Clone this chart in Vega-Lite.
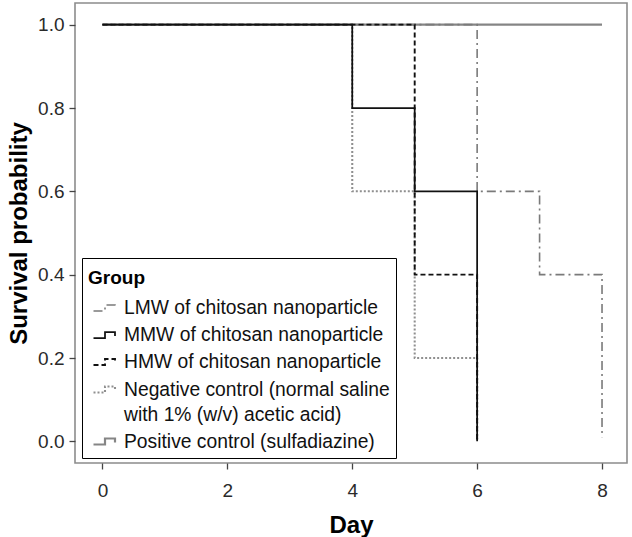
{
  "$schema": "https://vega.github.io/schema/vega-lite/v6.json",
  "width": 552,
  "height": 460,
  "autosize": {"type": "none"},
  "padding": {"left": 75, "top": 3, "right": 5, "bottom": 74},
  "background": "white",
  "config": {
    "font": "Liberation Sans",
    "view": {"stroke": "#8c8c8c", "strokeWidth": 1.6},
    "axis": {
      "grid": false,
      "domain": false,
      "tickColor": "#444444",
      "tickSize": 6,
      "tickWidth": 1.3,
      "labelFont": "Liberation Sans",
      "labelFontSize": 19,
      "labelColor": "#2a2a2a",
      "titleFont": "Liberation Sans",
      "titleFontSize": 24,
      "titleFontWeight": "bold",
      "titleColor": "#000000"
    }
  },
  "data": {
    "values": [
      {"group": "POS", "day": 0, "surv": 1.0},
      {"group": "POS", "day": 8, "surv": 1.0},
      {"group": "NEG", "day": 0, "surv": 1.0},
      {"group": "NEG", "day": 4, "surv": 0.6},
      {"group": "NEG", "day": 5, "surv": 0.2},
      {"group": "NEG", "day": 6, "surv": 0.0},
      {"group": "LMW", "day": 0, "surv": 1.0},
      {"group": "LMW", "day": 6, "surv": 0.6},
      {"group": "LMW", "day": 7, "surv": 0.4},
      {"group": "LMW", "day": 8, "surv": 0.01},
      {"group": "MMW", "day": 0, "surv": 1.0},
      {"group": "MMW", "day": 4, "surv": 0.8},
      {"group": "MMW", "day": 5, "surv": 0.6},
      {"group": "MMW", "day": 6, "surv": 0.0},
      {"group": "HMW", "day": 0, "surv": 1.0},
      {"group": "HMW", "day": 5, "surv": 0.4},
      {"group": "HMW", "day": 6, "surv": 0.0}
    ]
  },
  "mark": {"type": "line", "interpolate": "step-after"},
  "encoding": {
    "x": {
      "field": "day", "type": "quantitative",
      "scale": {"domain": [-0.44, 8.4], "nice": false, "zero": false},
      "axis": {"values": [0, 2, 4, 6, 8], "title": "Day", "titlePadding": 13, "labelPadding": 12}
    },
    "y": {
      "field": "surv", "type": "quantitative",
      "scale": {"domain": [-0.052, 1.052], "nice": false, "zero": false},
      "axis": {"values": [0, 0.2, 0.4, 0.6, 0.8, 1.0], "format": ".1f", "title": "Survival probability", "titlePadding": 6, "labelPadding": 5}
    },
    "color": {
      "field": "group", "type": "nominal",
      "scale": {
        "domain": ["LMW", "MMW", "HMW", "NEG", "POS"],
        "range": ["#7a7a7a", "#111111", "#111111", "#8f8f8f", "#858585"]
      },
      "legend": {
        "title": "Group",
        "orient": "none",
        "legendX": 7,
        "legendY": 255,
        "strokeColor": "#000000",
        "fillColor": "white",
        "padding": 6,
        "titleFontSize": 19,
        "titleFontWeight": "bold",
        "titleColor": "#000000",
        "titlePadding": 14,
        "labelFontSize": 19.3,
        "labelColor": "#111111",
        "labelLimit": 500,
        "labelOffset": 13,
        "rowPadding": 5,
        "symbolType": "M-0.6,0.3 H0.55 V-0.3 H1.55 V0.1",
        "symbolSize": 400,
        "symbolFillColor": "transparent",
        "encode": {
          "labels": {"update": {"lineHeight": {"value": 25}}},
          "title": {"update": {"dy": {"value": 5}}}
        },
        "labelExpr": "datum.label == 'LMW' ? 'LMW of chitosan nanoparticle' : datum.label == 'MMW' ? 'MMW of chitosan nanoparticle' : datum.label == 'HMW' ? 'HMW of chitosan nanoparticle' : datum.label == 'NEG' ? ['Negative control (normal saline', 'with 1% (w/v) acetic acid)'] : 'Positive control (sulfadiazine)'"
      }
    },
    "strokeDash": {
      "field": "group", "type": "nominal",
      "scale": {
        "domain": ["LMW", "MMW", "HMW", "NEG", "POS"],
        "range": [[9, 4, 2, 4], [1, 0], [5, 3], [2, 2], [1, 0]]
      },
      "legend": null
    },
    "strokeWidth": {
      "field": "group", "type": "nominal",
      "scale": {
        "domain": ["LMW", "MMW", "HMW", "NEG", "POS"],
        "range": [1.6, 2.2, 3, 1.7, 1.6]
      },
      "legend": null
    }
  }
}
